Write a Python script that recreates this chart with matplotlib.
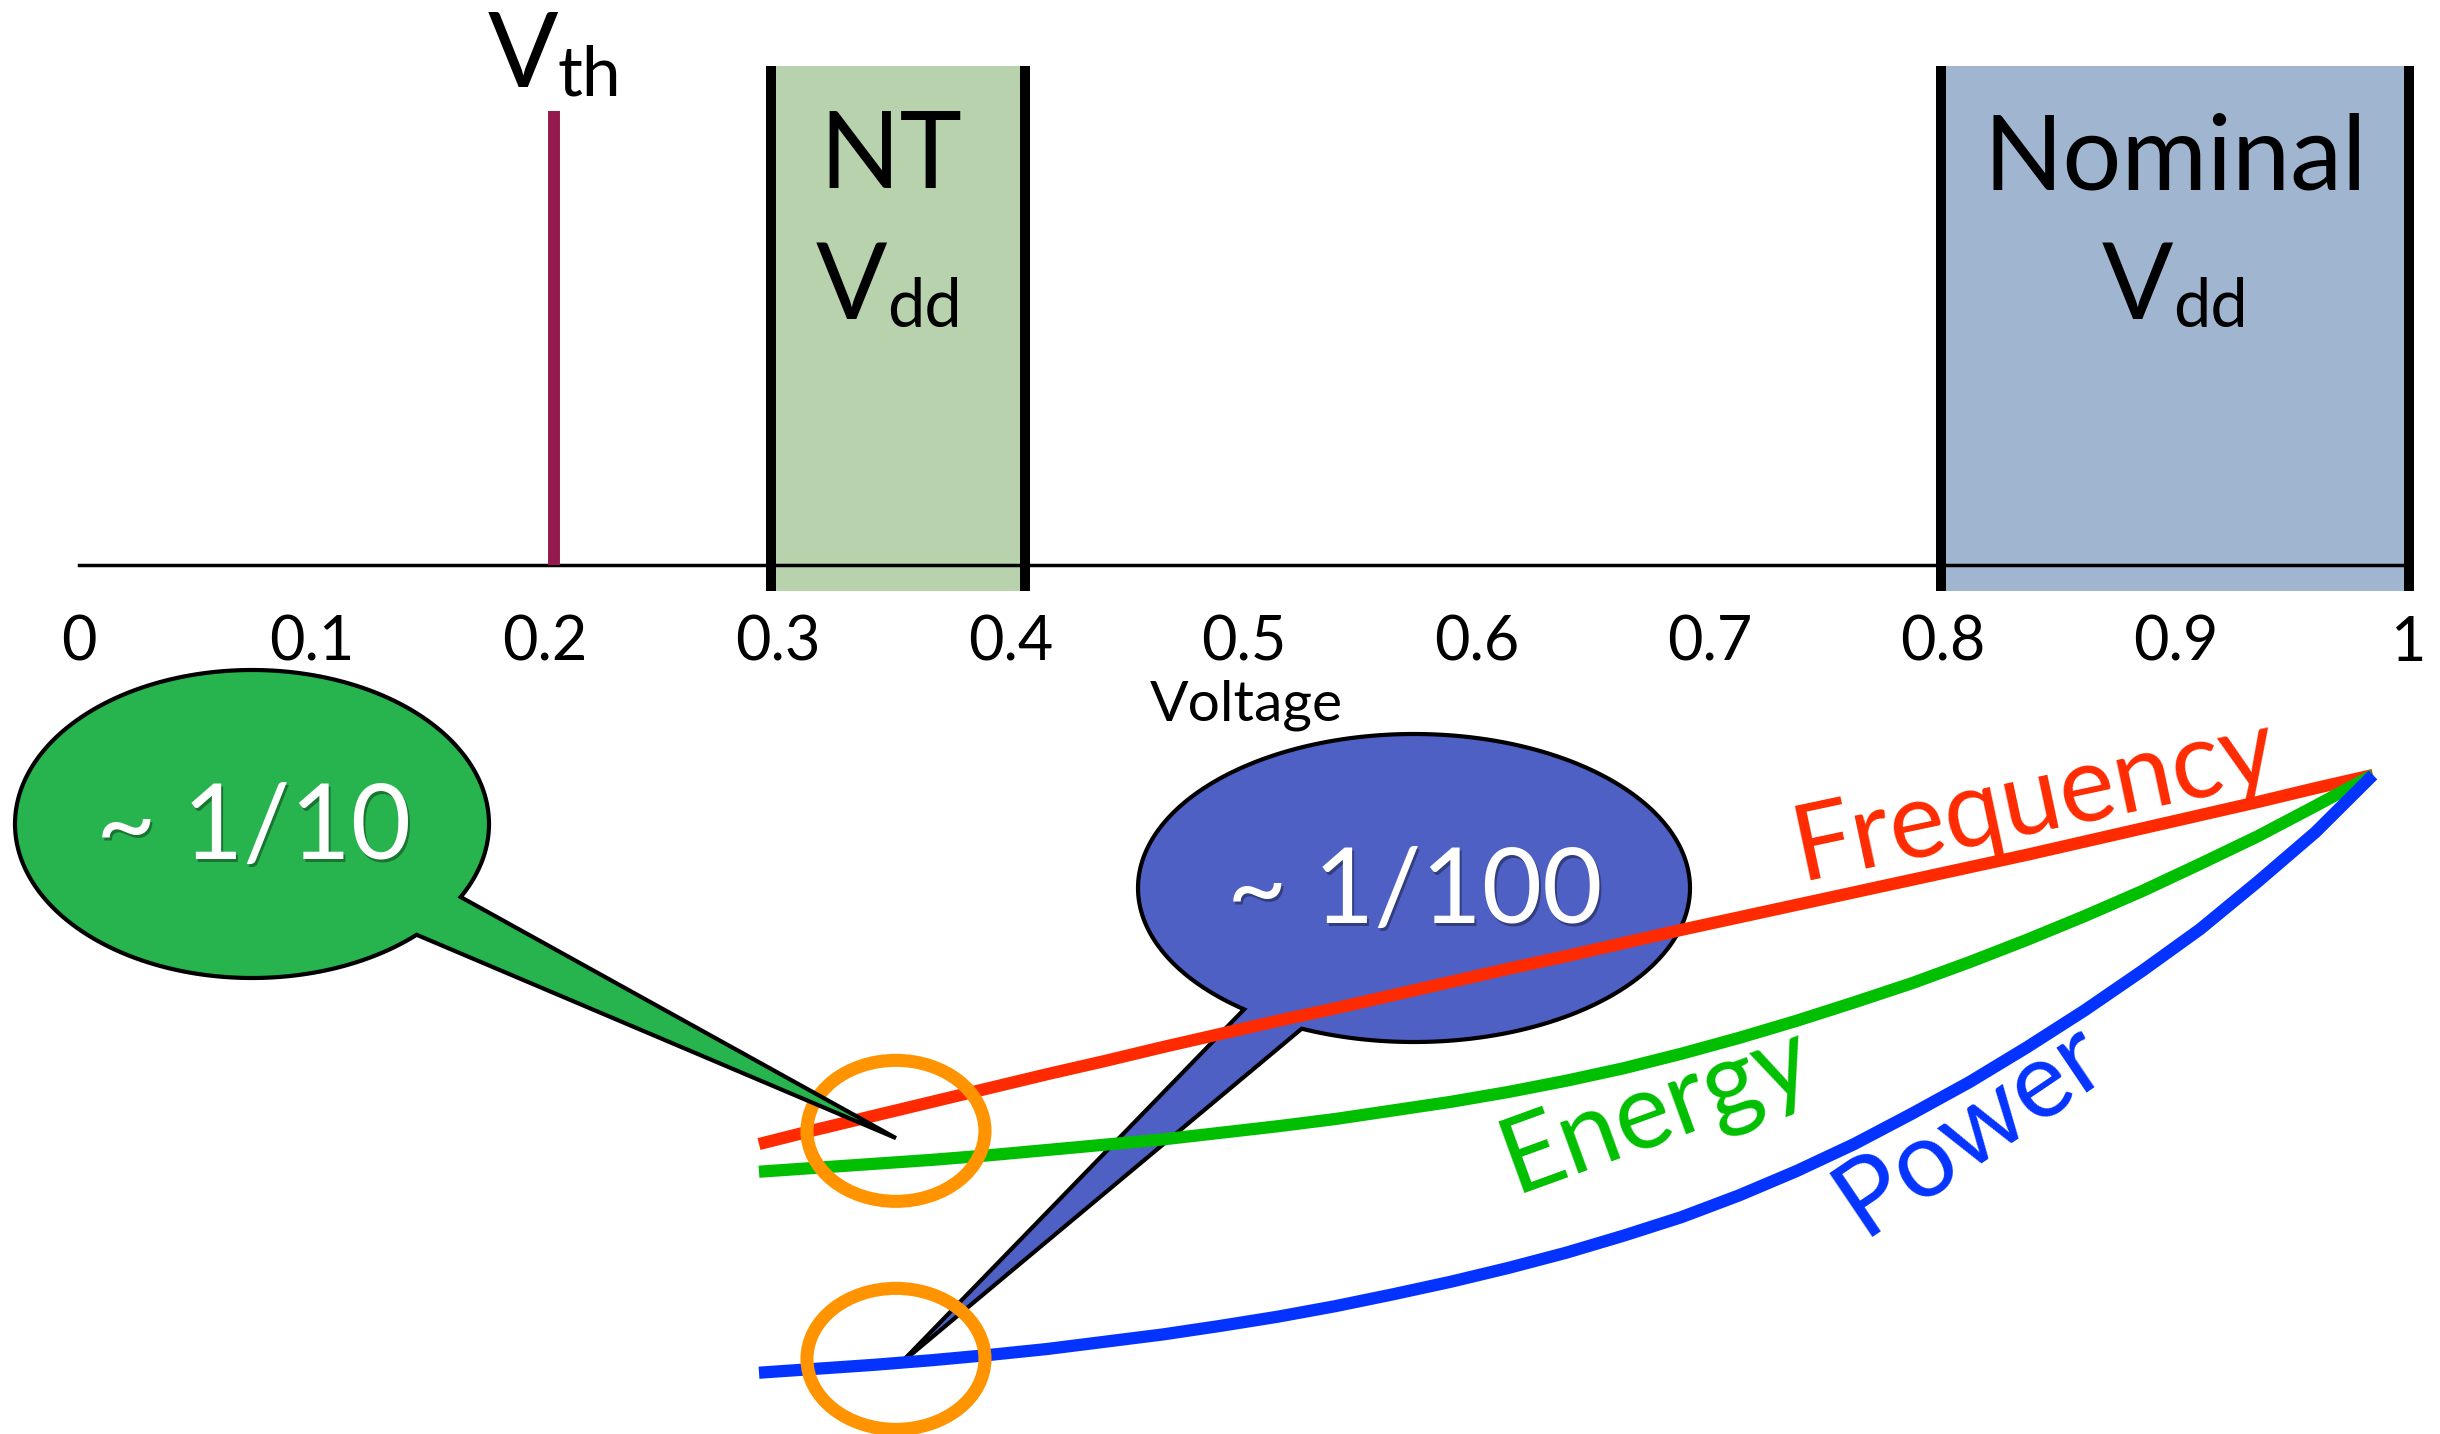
import numpy as np
import matplotlib
matplotlib.use("Agg")
import matplotlib.pyplot as plt
import matplotlib.transforms as mtransforms
from matplotlib.patches import Ellipse, Polygon, Rectangle

W, H = 2440, 1434
plt.rcParams['font.family'] = ['Lato', 'DejaVu Sans']

# ---------------- data ----------------
tick_values = [0.0, 0.1, 0.2, 0.3, 0.4, 0.5, 0.6, 0.7, 0.8, 0.9, 1.0]
tick_labels = ['0', '0.1', '0.2', '0.3', '0.4', '0.5', '0.6', '0.7', '0.8', '0.9', '1']
x_label = 'Voltage'
vth = 0.204
nt_range = (0.297, 0.406)
nominal_range = (0.799, 1.0)

curve_v = [0.300, 0.325, 0.350, 0.375, 0.400, 0.425, 0.450, 0.475, 0.500, 0.525,
           0.550, 0.575, 0.600, 0.625, 0.650, 0.675, 0.700, 0.725, 0.750, 0.775,
           0.800, 0.825, 0.850, 0.875, 0.900, 0.925, 0.950, 0.975, 1.000]
frequency = [0.440, 0.462, 0.483, 0.504, 0.525, 0.546, 0.566, 0.587, 0.607, 0.627,
             0.646, 0.666, 0.686, 0.706, 0.725, 0.745, 0.765, 0.784, 0.803, 0.822,
             0.841, 0.860, 0.879, 0.899, 0.919, 0.939, 0.959, 0.980, 1.000]
energy = [0.398, 0.404, 0.410, 0.416, 0.423, 0.431, 0.439, 0.447, 0.457, 0.467,
          0.478, 0.491, 0.504, 0.519, 0.536, 0.555, 0.577, 0.601, 0.627, 0.655,
          0.684, 0.716, 0.750, 0.786, 0.824, 0.865, 0.907, 0.953, 1.000]
power = [0.093, 0.099, 0.105, 0.112, 0.120, 0.129, 0.140, 0.151, 0.164, 0.178,
         0.194, 0.212, 0.231, 0.252, 0.275, 0.301, 0.329, 0.362, 0.399, 0.440,
         0.486, 0.534, 0.587, 0.643, 0.703, 0.766, 0.838, 0.913, 1.000]
curve_names = ['Frequency', 'Energy', 'Power']

highlight_v = 0.3594
highlight_y = [0.460, 0.114]
callout_tips = [(0.3594, 0.449), (0.3607, 0.105)]
callout_texts = ['~ 1/10', '~ 1/100']

RED, GREEN, BLUE = '#FF2A00', '#00BF00', '#0433FF'
ORANGE = '#FF9400'

# ---------------- figure ----------------
fig = plt.figure(figsize=(W / 100, H / 100), dpi=100)
T_px = mtransforms.Affine2D().scale(1 / W, -1 / H).translate(0, 1) + fig.transFigure


def fig_rect(x0, y0, x1, y1):
    return [x0 / W, 1 - y1 / H, (x1 - x0) / W, (y1 - y0) / H]


# ---------- top: voltage axis ----------
AX_Y, TOP_Y = 565, 66
axt = fig.add_axes(fig_rect(79, TOP_Y, 2409, AX_Y))
axt.set_xlim(0, 1)
axt.set_ylim(0, 1)
axt.axis('off')
span = AX_Y - TOP_Y
frac = lambda py: (AX_Y - py) / span
below = frac(591)

for (lo, hi), col in [(nt_range, '#B7D2AD'), (nominal_range, '#A0B5D0')]:
    axt.add_patch(Rectangle((lo, below), hi - lo, 1 - below, fc=col, ec='none',
                            clip_on=False, zorder=1))
    for xv in (lo, hi):
        axt.plot([xv, xv], [below, 1], color='black', lw=7.2,
                 solid_capstyle='butt', clip_on=False, zorder=4)

axt.plot([0, 1], [0, 0], color='black', lw=2.5, clip_on=False, zorder=2)
axt.plot([vth, vth], [0, frac(111)], color='#941A4E', lw=8.6,
         solid_capstyle='butt', clip_on=False, zorder=3)

for v, lab in zip(tick_values, tick_labels):
    axt.text(v, frac(661), lab, ha='center', va='baseline', fontsize=44, clip_on=False)
axt.text(0.501, frac(721), x_label, ha='center', va='baseline', fontsize=41, clip_on=False)

pending = []


def sub_label(ax, x, y, main, sub, size, subsize, drop):
    tr = ax.transData
    t1 = ax.text(x, y, main, fontsize=size, ha='left', va='baseline', transform=tr,
                 clip_on=False, zorder=5)
    t2 = ax.text(x, y, sub, fontsize=subsize, ha='left', va='baseline', transform=tr,
                 clip_on=False, zorder=5)
    pending.append((t1, t2, drop, tr))


sub_label(axt, vth, frac(87), 'V', 'th', 75, 50, 9)
nt_c = sum(nt_range) / 2
nom_c = sum(nominal_range) / 2
axt.text(nt_c - 0.003, frac(188), 'NT', ha='center', va='baseline', fontsize=76, zorder=5)
sub_label(axt, nt_c - 0.004, frac(319), 'V', 'dd', 76, 48, 8)
axt.text(nom_c, frac(190), 'Nominal', ha='center', va='baseline', fontsize=75, zorder=5)
sub_label(axt, nom_c, frac(319), 'V', 'dd', 76, 48, 8)

# ---------- bottom: curves ----------
B_TOP = 640
axb = fig.add_axes(fig_rect(0, B_TOP, W, H))
px_per_v = 1614 / 0.7
px_per_y = 659
x0_px = 759
axb.set_xlim(0.3 - x0_px / px_per_v, 0.3 + (W - x0_px) / px_per_v)
axb.set_ylim(0, (H - B_TOP) / px_per_y)
axb.axis('off')

for vals, col in zip([frequency, energy, power], [RED, GREEN, BLUE]):
    axb.plot(curve_v, vals, color=col, lw=8.8, solid_capstyle='butt',
             solid_joinstyle='round', zorder=2)

for yc in highlight_y:
    axb.add_patch(Ellipse((highlight_v, yc), width=178 / px_per_v, height=141 / px_per_y,
                          fill=False, ec=ORANGE, lw=9.4, zorder=3))

# curve labels
for name, col, (px, py), rot in zip(curve_names, [RED, GREEN, BLUE],
                                     [(2041, 829), (1666, 1138), (1987, 1153)],
                                     [12, 20, 34]):
    axb.text(px, py, name, color=col, fontsize=76, ha='center', va='baseline',
             rotation=rot, rotation_mode='anchor', transform=T_px, zorder=5)

# callout bubbles
to_px = lambda pt: T_px.inverted().transform(axb.transData.transform(pt))


def bubble(cx, cy, a, b, th_start, th_end, tip, fc, z):
    t = np.radians(np.linspace(th_start, th_end, 400))
    xs = np.r_[cx + a * np.cos(t), tip[0]]
    ys = np.r_[cy + b * np.sin(t), tip[1]]
    axb.add_patch(Polygon(np.column_stack([xs, ys]), closed=True, fc=fc, ec='black',
                          lw=3, joinstyle='miter', transform=T_px, clip_on=False, zorder=z))


def bubble_text(x, y, s, z):
    axb.text(x + 2, y + 3, s, color='black', alpha=0.35, fontsize=75,
             ha='center', va='baseline', transform=T_px, zorder=z)
    axb.text(x, y, s, color='white', fontsize=75,
             ha='center', va='baseline', transform=T_px, zorder=z + 0.01)


bubble(1414, 888, 276, 154, 128, 474, to_px(callout_tips[1]), '#4F60C4', 1)
bubble(252, 824, 237, 154, 46, 388.3, to_px(callout_tips[0]), '#27B44E', 6)
bubble_text(254, 859, callout_texts[0], 7)
bubble_text(1415, 923, callout_texts[1], 1.5)

# position subscript labels
fig.canvas.draw()
r = fig.canvas.get_renderer()
for t1, t2, drop, tr in pending:
    w1 = t1.get_window_extent(r).width
    w2 = t2.get_window_extent(r).width
    tot = w1 + w2
    t1.set_transform(tr + mtransforms.ScaledTranslation(-tot / 2 / fig.dpi, 0, fig.dpi_scale_trans))
    t2.set_transform(tr + mtransforms.ScaledTranslation((-tot / 2 + w1) / fig.dpi,
                                                        -drop / fig.dpi, fig.dpi_scale_trans))

fig.savefig('out.png', dpi=100, facecolor='white')
